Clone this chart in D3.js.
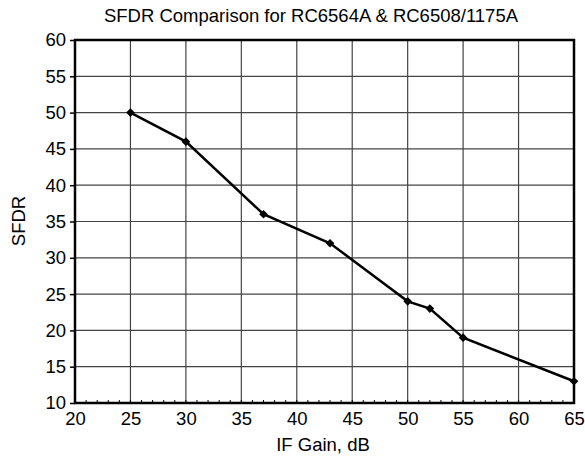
<!DOCTYPE html>
<html>
<head>
<meta charset="utf-8">
<script src="https://cdn.jsdelivr.net/npm/d3@7"></script>
<style>
  body { margin: 0; background: #fff; }
  svg text { font-family: "Liberation Sans", Arial, sans-serif; fill: #000; }
</style>
</head>
<body>
<svg width="585" height="457"></svg>
<script>
  var ifGain = [25, 30, 37, 43, 50, 52, 55, 65];
  var sfdr = [50, 46, 36, 32, 24, 23, 19, 13];
  var xTicks = [20, 25, 30, 35, 40, 45, 50, 55, 60, 65];
  var yTicks = [10, 15, 20, 25, 30, 35, 40, 45, 50, 55, 60];

  var svg = d3.select("svg");
  var margin = { left: 75, right: 11, top: 40, bottom: 54 };
  var w = +svg.attr("width") - margin.left - margin.right;
  var h = +svg.attr("height") - margin.top - margin.bottom;
  var fs = 18.5;

  var x = d3.scaleLinear().domain([20, 65]).range([0, w]);
  var y = d3.scaleLinear().domain([10, 60]).range([h, 0]);

  var g = svg.append("g").attr("transform", "translate(" + margin.left + "," + margin.top + ")");

  // grid
  g.selectAll(".vgrid").data(xTicks).enter().append("line")
    .attr("x1", d => x(d)).attr("x2", d => x(d))
    .attr("y1", 0).attr("y2", h)
    .attr("stroke", "#444").attr("stroke-width", 1.2);
  g.selectAll(".hgrid").data(yTicks).enter().append("line")
    .attr("y1", d => y(d)).attr("y2", d => y(d))
    .attr("x1", 0).attr("x2", w)
    .attr("stroke", "#444").attr("stroke-width", 1.2);

  // minor ticks on bottom, pointing inward
  g.selectAll(".minor").data(d3.range(21, 65)).enter().append("line")
    .attr("x1", d => x(d)).attr("x2", d => x(d))
    .attr("y1", h).attr("y2", h - 3)
    .attr("stroke", "#000").attr("stroke-width", 1);

  // frame
  g.append("rect").attr("width", w).attr("height", h)
    .attr("fill", "none").attr("stroke", "#000").attr("stroke-width", 2.5);

  var xAxis = g.append("g").attr("transform", "translate(0," + h + ")")
    .call(d3.axisBottom(x).tickValues(xTicks).tickSize(0).tickPadding(9));
  var yAxis = g.append("g")
    .call(d3.axisLeft(y).tickValues(yTicks).tickSize(5).tickPadding(4));
  [xAxis, yAxis].forEach(function (a) {
    a.select(".domain").remove();
    a.selectAll("text").attr("font-size", fs).attr("font-family", "Liberation Sans, Arial, sans-serif");
    a.selectAll("line").attr("stroke", "#000").attr("stroke-width", 1.5);
  });

  var pts = ifGain.map((d, i) => [d, sfdr[i]]);
  g.append("path")
    .attr("d", d3.line().x(d => x(d[0])).y(d => y(d[1]))(pts))
    .attr("fill", "none").attr("stroke", "#000").attr("stroke-width", 2.5);

  g.selectAll(".pt").data(pts).enter().append("path")
    .attr("d", d3.symbol(d3.symbolDiamond2, 48))
    .attr("transform", d => "translate(" + x(d[0]) + "," + y(d[1]) + ")")
    .attr("fill", "#000");

  svg.append("text").attr("x", 311).attr("y", 22)
    .attr("text-anchor", "middle").attr("font-size", fs)
    .text("SFDR Comparison for RC6564A & RC6508/1175A");
  svg.append("text").attr("x", 323).attr("y", 451)
    .attr("text-anchor", "middle").attr("font-size", fs)
    .text("IF Gain, dB");
  svg.append("text").attr("transform", "translate(25,221) rotate(-90)")
    .attr("text-anchor", "middle").attr("font-size", fs)
    .text("SFDR");
</script>
</body>
</html>
